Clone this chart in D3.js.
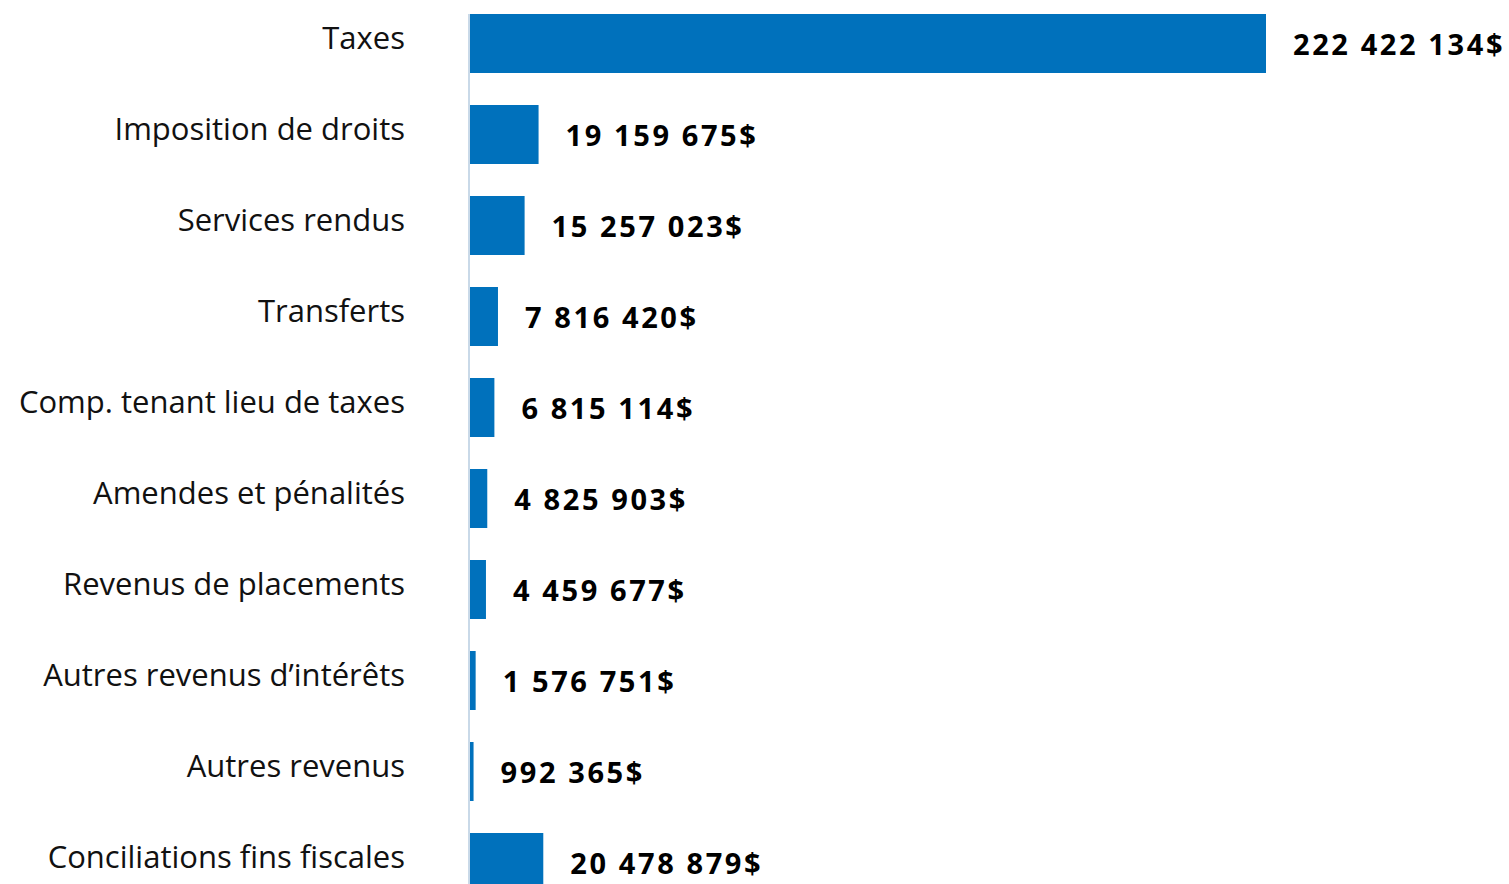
<!DOCTYPE html>
<html><head><meta charset="utf-8">
<script src="https://cdn.jsdelivr.net/npm/d3@7"></script>
<style>
html,body{margin:0;padding:0;background:#fff;overflow:hidden;}
text{font-variant-ligatures:none;}
</style></head>
<body>
<svg id="chart" width="1509" height="884"></svg>
<script>
const categories = ["Taxes","Imposition de droits","Services rendus","Transferts","Comp. tenant lieu de taxes","Amendes et pénalités","Revenus de placements","Autres revenus d’intérêts","Autres revenus","Conciliations fins fiscales"];
const values = [222422134,19159675,15257023,7816420,6815114,4825903,4459677,1576751,992365,20478879];

const svg = d3.select("#chart");
const x0 = 470, barColor = "#0071bc";
const x = d3.scaleLinear().domain([0, 222422134]).range([x0, 1266]);
const y = d3.scaleBand().domain(categories).range([14, 14 + 91*10 - 32]).paddingInner(32/91).paddingOuter(0);

svg.append("line").attr("x1", 469).attr("x2", 469).attr("y1", 14).attr("y2", 884)
  .attr("stroke", "#c9d9e8").attr("stroke-width", 2);

const fmt = v => d3.format(",")(v).replace(/,/g, " ") + "$";

svg.selectAll("rect.bar").data(categories).join("rect").attr("class","bar")
  .attr("x", x0).attr("y", d => y(d))
  .attr("width", (d,i) => x(values[i]) - x0).attr("height", y.bandwidth())
  .attr("fill", barColor);

svg.selectAll("text.cat").data(categories).join("text").attr("class","cat")
  .attr("x", 405).attr("y", d => y(d) + y.bandwidth()/2 - 5)
  .attr("dy", "0.35em").attr("text-anchor","end")
  .attr("font-family","'Open Sans', sans-serif").attr("font-size", 31)
  .attr("fill","#111").text(d => d);

svg.selectAll("text.val").data(categories).join("text").attr("class","val")
  .attr("x", (d,i) => x(values[i]) + 27).attr("y", d => y(d) + y.bandwidth()/2 + 1)
  .attr("dy", "0.35em")
  .attr("font-family","'Open Sans', sans-serif").attr("font-weight", 700).attr("font-size", 29)
  .attr("letter-spacing", 2.6)
  .attr("fill","#000").text((d,i) => fmt(values[i]));
</script>
</body></html>
